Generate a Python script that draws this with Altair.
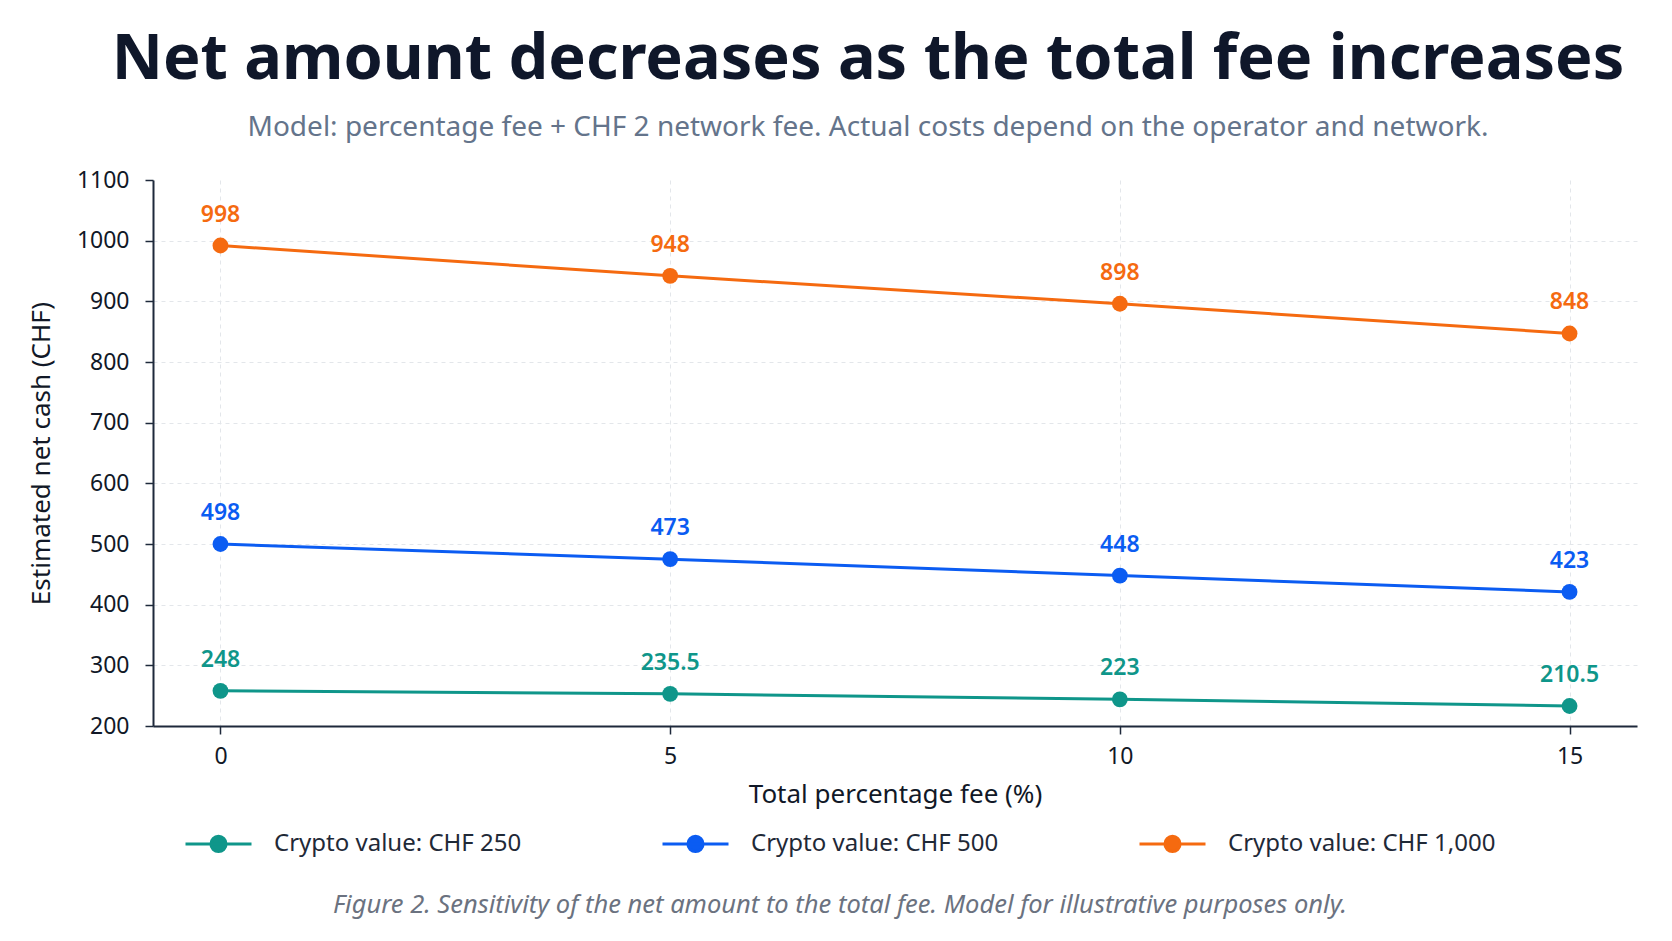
import altair as alt
import pandas as pd

# values
fees = [0, 5, 10, 15]
series = ["Crypto value: CHF 250", "Crypto value: CHF 500", "Crypto value: CHF 1,000"]
colors = ["#0f968a", "#0b5cf2", "#f56a10"]

# point positions as drawn
net_250 = [258, 253, 244, 233]
net_500 = [500, 475, 448, 421]
net_1000 = [992, 942, 896, 847]

# value labels as printed
labels_250 = ["248", "235.5", "223", "210.5"]
labels_500 = ["498", "473", "448", "423"]
labels_1000 = ["998", "948", "898", "848"]

y_ticks = [200, 300, 400, 500, 600, 700, 800, 900, 1000, 1100]
x_ticks = [0, 5, 10, 15]

title = "Net amount decreases as the total fee increases"
subtitle = "Model: percentage fee + CHF 2 network fee. Actual costs depend on the operator and network."
caption = "Figure 2. Sensitivity of the net amount to the total fee. Model for illustrative purposes only."

rows = []
for name, nets, labels in zip(series, [net_250, net_500, net_1000], [labels_250, labels_500, labels_1000]):
    for fee, net, lab in zip(fees, nets, labels):
        rows.append({"fee": fee, "net": net, "label": lab, "series": name})
df = pd.DataFrame(rows)

FONT = "Noto Sans"
DARK = "#1e293b"

legend_symbol = "M-1,0L1,0M-0.23,0A0.23,0.23,0,1,0,0.23,0A0.23,0.23,0,1,0,-0.23,0Z"

color = alt.Color(
    "series:N",
    scale=alt.Scale(domain=series, range=colors),
    legend=alt.Legend(
        title=None, orient="none", direction="horizontal",
        legendX=31, legendY=629,
        symbolType=legend_symbol, symbolSize=4356, symbolStrokeWidth=3,
        labelFont=FONT, labelFontSize=24, labelColor="#1f2937", labelLimit=0,
        labelOffset=21, columnPadding=134, padding=0
    )
)

x = alt.X(
    "fee:Q", title="Total percentage fee (%)",
    scale=alt.Scale(domain=[-0.75, 15.75], nice=False, zero=False),
    axis=alt.Axis(values=x_ticks, labelPadding=11, titlePadding=13)
)
y = alt.Y(
    "net:Q", title="Estimated net cash (CHF)",
    scale=alt.Scale(domain=[200, 1100], nice=False, zero=False),
    axis=alt.Axis(values=y_ticks, format="d", labelPadding=16, titlePadding=22,
                  gridOpacity={"condition": {"test": "datum.value >= 1100", "value": 0}, "value": 1})
)

base = alt.Chart(df).encode(x=x, y=y, color=color)

lines = base.mark_line(strokeWidth=3)
points = base.mark_circle(size=250, opacity=1)
texts = base.mark_text(dy=-31, fontSize=23, fontWeight=600, font=FONT).encode(text="label:N")

caption_layer = alt.Chart(pd.DataFrame({"text": [caption]})).mark_text(
    font=FONT, fontSize=25.5, fontStyle="italic", color="#6b7280", align="center", baseline="middle"
).encode(x=alt.value(687), y=alt.value(725), text="text:N")

chart = alt.layer(lines, points, texts, caption_layer).properties(
    width=1484,
    height=546,
    autosize=alt.AutoSizeParams(type="none"),
    padding={"left": 145, "top": 172, "right": 27, "bottom": 207},
    title=alt.TitleParams(
        text=title, subtitle=subtitle,
        font=FONT, fontSize=63, fontWeight="bold", color="#0f172a",
        subtitleFont=FONT, subtitleFontSize=28, subtitleColor="#64748b",
        subtitlePadding=22, anchor="middle", offset=27, dx=-27
    )
).configure_view(stroke=None).configure_axis(
    domainColor=DARK, domainWidth=2, tickColor=DARK, tickWidth=1.5, tickSize=8,
    labelFont=FONT, labelFontSize=23, labelColor="#111827",
    titleFont=FONT, titleFontSize=26, titleFontWeight="normal", titleColor="#111827",
    gridColor="#e3e6ea", gridDash=[4, 4], gridWidth=1
)

chart.save("out.html", embed_options={"renderer": "svg", "actions": False})
